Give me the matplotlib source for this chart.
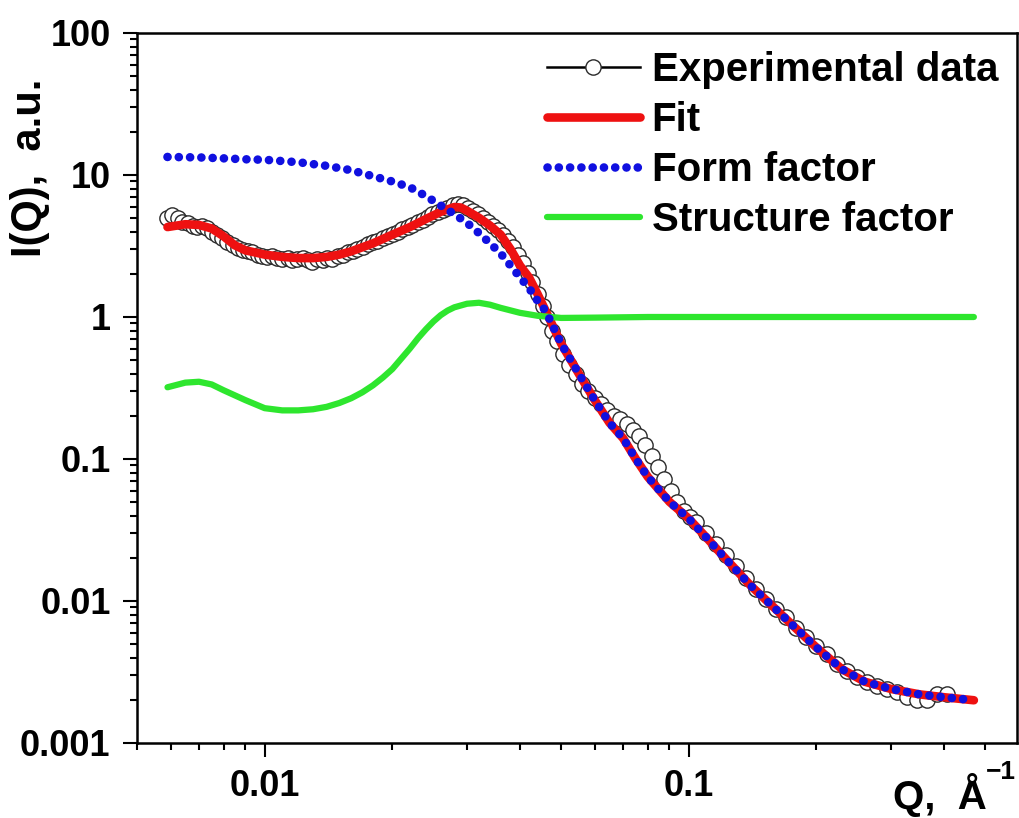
import matplotlib
matplotlib.use('Agg')
import matplotlib.pyplot as plt
from matplotlib.ticker import LogLocator, FuncFormatter, NullFormatter

plt.rcParams['font.family'] = ['Liberation Sans', 'DejaVu Sans']
plt.rcParams['font.weight'] = 'bold'

# experimental SAXS curve
q_exp = [0.00590, 0.00606, 0.00623, 0.00640, 0.00658, 0.00676, 0.00694, 0.00713, 0.00733, 0.00753,
         0.00774, 0.00795, 0.00817, 0.00840, 0.00863, 0.00887, 0.00911, 0.00936, 0.00962, 0.00988,
         0.01015, 0.01043, 0.01072, 0.01101, 0.01132, 0.01163, 0.01195, 0.01228, 0.01262, 0.01296,
         0.01332, 0.01369, 0.01406, 0.01445, 0.01485, 0.01526, 0.01568, 0.01611, 0.01655, 0.01701,
         0.01748, 0.01796, 0.01845, 0.01896, 0.01948, 0.02002, 0.02057, 0.02113, 0.02172, 0.02231,
         0.02293, 0.02356, 0.02421, 0.02487, 0.02556, 0.02626, 0.02698, 0.02773, 0.02849, 0.02927,
         0.03008, 0.03091, 0.03176, 0.03263, 0.03353, 0.03445, 0.03540, 0.03637, 0.03737, 0.03840,
         0.03946, 0.04054, 0.04166, 0.04280, 0.04398, 0.04519, 0.04643, 0.04771, 0.04902,
         0.0505, 0.0523, 0.0541, 0.0560, 0.0580, 0.0600, 0.0621, 0.0643, 0.0665, 0.0689,
         0.0713, 0.0738, 0.0764, 0.0790, 0.0818, 0.0847, 0.0876, 0.0907, 0.0939, 0.0972, 0.1006,
         0.1040, 0.1098, 0.1160, 0.1225, 0.1293, 0.1366, 0.1442, 0.1523, 0.1608, 0.1698,
         0.1793, 0.1894, 0.2000, 0.2112, 0.2230, 0.2355, 0.2487, 0.2626, 0.2773, 0.2928,
         0.3092, 0.3265, 0.3448, 0.3641, 0.3845, 0.4060]
i_exp = [5.0, 5.2, 5.0, 4.7, 4.6, 4.4, 4.3, 4.4, 4.2, 4.0,
         3.8, 3.6, 3.4, 3.2, 3.05, 2.95, 2.9, 2.85, 2.75, 2.7,
         2.65, 2.7, 2.6, 2.55, 2.6, 2.5, 2.55, 2.6, 2.5, 2.45,
         2.55, 2.5, 2.6, 2.55, 2.7, 2.75, 2.85, 2.9, 3.0, 3.1,
         3.25, 3.35, 3.45, 3.6, 3.7, 3.85, 4.0, 4.15, 4.3, 4.45,
         4.65, 4.85, 5.05, 5.3, 5.5, 5.7, 5.9, 6.1, 6.2, 6.1,
         5.9, 5.6, 5.3, 5.0, 4.7, 4.4, 4.1, 3.8, 3.45, 3.1,
         2.75, 2.4, 2.05, 1.75, 1.45, 1.2, 1.0, 0.8, 0.68,
         0.55, 0.46, 0.40, 0.34, 0.30, 0.27, 0.245, 0.22, 0.20, 0.19,
         0.175, 0.16, 0.145, 0.125, 0.105, 0.088, 0.072, 0.060, 0.050, 0.043, 0.039,
         0.036, 0.030, 0.025, 0.021, 0.0175, 0.0145, 0.0122, 0.0103, 0.0088, 0.0077,
         0.0065, 0.0056, 0.0048, 0.0042, 0.0036, 0.0032, 0.0029, 0.0027, 0.0025, 0.0024,
         0.0023, 0.0021, 0.0020, 0.0020, 0.0022, 0.0022]

# model curves
q_fit = [0.0059, 0.0065, 0.0070, 0.0075, 0.0080, 0.0085, 0.0090, 0.010, 0.011, 0.012,
         0.013, 0.014, 0.015, 0.016, 0.017, 0.018, 0.020, 0.022, 0.024, 0.026,
         0.028, 0.029, 0.030, 0.032, 0.034, 0.036, 0.038, 0.040, 0.042, 0.044,
         0.046, 0.050, 0.055, 0.060, 0.065, 0.070, 0.075, 0.080, 0.090, 0.100,
         0.110, 0.120, 0.140, 0.160, 0.180, 0.200, 0.230, 0.260, 0.300, 0.350,
         0.400, 0.470]
i_fit = [4.3, 4.5, 4.45, 4.2, 3.7, 3.2, 2.95, 2.75, 2.65, 2.6,
         2.6, 2.65, 2.75, 2.9, 3.1, 3.3, 3.8, 4.3, 4.9, 5.5,
         5.95, 5.9, 5.6, 5.0, 4.4, 3.8, 3.0, 2.3, 1.9, 1.45,
         1.1, 0.65, 0.40, 0.26, 0.18, 0.14, 0.10, 0.075, 0.050, 0.038,
         0.028, 0.021, 0.0128, 0.0088, 0.0063, 0.0047, 0.0033, 0.0027, 0.0024, 0.0022,
         0.0021, 0.0020]

q_ff = [0.0059, 0.0070, 0.0080, 0.0090, 0.010, 0.012, 0.014, 0.016, 0.018, 0.020,
        0.022, 0.024, 0.026, 0.028, 0.030, 0.032, 0.034, 0.036, 0.038, 0.040,
        0.042, 0.044, 0.046, 0.050, 0.055, 0.060, 0.065, 0.070, 0.075, 0.080,
        0.090, 0.100, 0.110, 0.120, 0.140, 0.160, 0.180, 0.200, 0.230, 0.260,
        0.300, 0.350, 0.400, 0.470]
i_ff = [13.4, 13.3, 13.1, 12.9, 12.8, 12.3, 11.6, 10.8, 9.8, 9.0,
        8.2, 7.1, 6.1, 5.3, 4.6, 3.9, 3.3, 2.8, 2.3, 1.9,
        1.6, 1.3, 1.1, 0.65, 0.40, 0.26, 0.18, 0.14, 0.10, 0.075,
        0.050, 0.038, 0.028, 0.021, 0.0128, 0.0088, 0.0063, 0.0047, 0.0033, 0.0027,
        0.0024, 0.0022, 0.0021, 0.0020]

q_sf = [0.0059, 0.0065, 0.0070, 0.0075, 0.0080, 0.0090, 0.010, 0.011, 0.012, 0.013,
        0.014, 0.015, 0.016, 0.017, 0.018, 0.019, 0.020, 0.021, 0.022, 0.023,
        0.024, 0.025, 0.026, 0.027, 0.028, 0.030, 0.032, 0.034, 0.036, 0.040,
        0.044, 0.050, 0.060, 0.080, 0.200, 0.470]
s_sf = [0.32, 0.345, 0.35, 0.335, 0.305, 0.26, 0.228, 0.22, 0.22, 0.224,
        0.233, 0.248, 0.268, 0.295, 0.33, 0.375, 0.43, 0.51, 0.60, 0.71,
        0.82, 0.93, 1.03, 1.11, 1.17, 1.24, 1.26, 1.22, 1.16, 1.07,
        1.02, 0.985, 0.99, 1.0, 1.0, 1.0]

fig = plt.figure(figsize=(10.19, 8.18), dpi=100)
ax = fig.add_axes([137 / 1019, 75 / 818, 880 / 1019, 710 / 818])

ax.plot(q_exp, i_exp, color='black', lw=1.8, marker='o', ms=11, mfc='white',
        mec='#2a2a2a', mew=1.0, zorder=2, label='Experimental data')
ax.plot(q_fit, i_fit, color='#ee1111', lw=6.2, solid_joinstyle='round',
        solid_capstyle='round', zorder=3, label='Fit')
ax.plot(q_ff, i_ff, color='#1010e0', lw=6.2, linestyle=(0, (0.01, 1.3)),
        dash_capstyle='round', zorder=4, label='Form factor')
ax.plot(q_sf, s_sf, color='#2ee62e', lw=4.5, solid_joinstyle='round',
        solid_capstyle='round', zorder=3, label='Structure factor')

ax.set_xscale('log')
ax.set_yscale('log')
ax.set_xlim(0.005, 0.594)
ax.set_ylim(0.001, 100)

fmt = FuncFormatter(lambda v, p: f'{v:g}')
for axis in (ax.xaxis, ax.yaxis):
    axis.set_major_locator(LogLocator(base=10))
    axis.set_minor_locator(LogLocator(base=10, subs=range(2, 10)))
    axis.set_major_formatter(fmt)
    axis.set_minor_formatter(NullFormatter())

ax.tick_params(which='both', direction='out', top=False, right=False,
               width=1.5, labelsize=26)
ax.tick_params(which='major', length=10, pad=9)
ax.tick_params(which='minor', length=5)
for sp in ax.spines.values():
    sp.set_linewidth(1.8)

leg = ax.legend(loc='upper left', bbox_to_anchor=((547 - 137) / 880, (743 - 51) / 710),
                frameon=False, borderpad=0, borderaxespad=0, handlelength=2.3,
                handletextpad=0.3, labelspacing=0.3,
                prop={'weight': 'bold', 'size': 29})

fig.text(30 / 1019, 1 - 168 / 818, 'I(Q),  a.u.', rotation=90, ha='center',
         va='center', fontsize=30, fontweight='bold')
fig.text(893 / 1019, 1 - 809 / 818, 'Q,  Å', ha='left', va='baseline',
         fontsize=29, fontweight='bold')
fig.text(986 / 1019, 1 - 779 / 818, '\u22121', ha='left', va='baseline',
         fontsize=19, fontweight='bold')

fig.savefig('out.png', dpi=100, facecolor='white')
